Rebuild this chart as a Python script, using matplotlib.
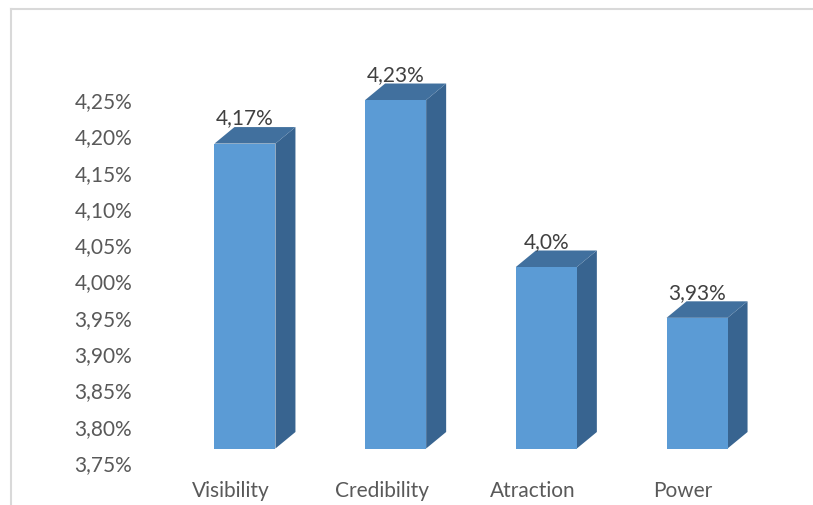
import matplotlib
matplotlib.use("Agg")
import matplotlib.pyplot as plt
from matplotlib.patches import Polygon
from matplotlib.lines import Line2D
import matplotlib.transforms as mtransforms
import numpy as np

categories = ["Visibility", "Credibility", "Atraction", "Power"]
values = [4.17, 4.23, 4.00, 3.93]
value_labels = ["4,17%", "4,23%", "4,0%", "3,93%"]
y_ticks = [3.75, 3.80, 3.85, 3.90, 3.95, 4.00, 4.05, 4.10, 4.15, 4.20, 4.25]

W, H = 813, 506
fig = plt.figure(figsize=(W / 100, H / 100), dpi=100)
plt.rcParams['font.family'] = ['Lato', 'DejaVu Sans']

ax_l, ax_r, ax_b, ax_t = 169.6, 772.4, 43, 406
ax = fig.add_axes([ax_l / W, ax_b / H, (ax_r - ax_l) / W, (ax_t - ax_b) / H])
ax.set_xlim(-0.5, 3.5)
ax.set_ylim(3.75, 4.25)

px_x = (ax_r - ax_l) / 4.0          # pixels per category unit
px_y = (ax_t - ax_b) / 0.5          # pixels per 1.0 y-unit

front_col = "#5B9BD5"
top_col = "#41709E"
side_col = "#386490"

bw = 61 / px_x
shift = 13.5 / px_y                 # 3D projection offset of front faces
ddx = 20 / px_x                     # depth offset
ddy = 16.5 / px_y
base = 3.75

for i, v in enumerate(values):
    x0, x1 = i - bw / 2, i + bw / 2
    yb, yt = base + shift, v + shift
    front = Polygon([(x0, yb), (x1, yb), (x1, yt), (x0, yt)], closed=True,
                    facecolor=front_col, edgecolor="none", clip_on=False, zorder=3)
    side = Polygon([(x1, yb), (x1 + ddx, yb + ddy), (x1 + ddx, yt + ddy), (x1, yt)],
                   closed=True, facecolor=side_col, edgecolor="none", clip_on=False, zorder=2)
    top = Polygon([(x0, yt), (x1, yt), (x1 + ddx, yt + ddy), (x0 + ddx, yt + ddy)],
                  closed=True, facecolor=top_col, edgecolor="none", clip_on=False, zorder=2)
    for p in (side, top, front):
        ax.add_patch(p)
    ax.text(i, yt + 26 / px_y, value_labels[i], ha="center", va="center",
            fontsize=15, color="#404040", zorder=5)

trans = mtransforms.blended_transform_factory(ax.transData, ax.transAxes)
for i, c in enumerate(categories):
    ax.text(i - 14 / px_x, -28 / (ax_t - ax_b), c, transform=trans, ha="center",
            va="center", fontsize=15, color="#595959")

ax.set_yticks(y_ticks)
ax.set_yticklabels([f"{t:.2f}".replace(".", ",") + "%" for t in y_ticks])
ax.tick_params(axis="y", length=0, pad=27, labelsize=15, labelcolor="#595959")
ax.set_xticks([])
for s in ax.spines.values():
    s.set_visible(False)
ax.patch.set_alpha(0)

fig.add_artist(Line2D([11 / W, 11 / W], [0, 1 - 10 / H], color="#D9D9D9", lw=1.5,
                      transform=fig.transFigure))
fig.add_artist(Line2D([11 / W, 1], [1 - 10 / H, 1 - 10 / H], color="#D9D9D9", lw=1.5,
                      transform=fig.transFigure))

fig.savefig("out.png", dpi=100)
